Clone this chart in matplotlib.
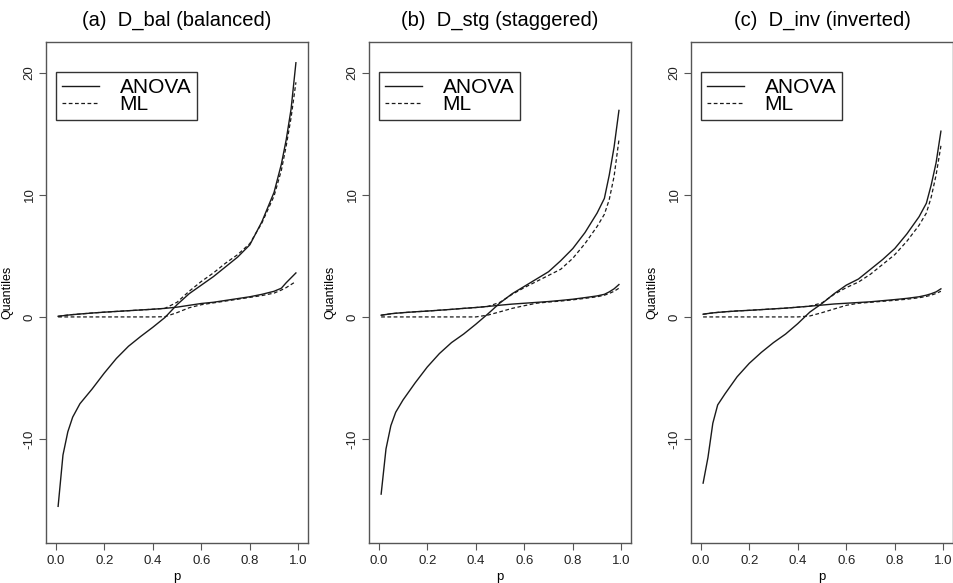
import matplotlib
matplotlib.use('Agg')

import numpy as np
import matplotlib.pyplot as plt

plt.rcParams['font.family'] = ['Liberation Sans', 'DejaVu Sans']

# probability grid shared by every curve
p = [0.01, 0.03, 0.05, 0.07, 0.10, 0.15, 0.20, 0.25, 0.30, 0.35, 0.40, 0.45,
     0.50, 0.55, 0.60, 0.65, 0.70, 0.75, 0.80, 0.85, 0.90, 0.93, 0.95, 0.97, 0.99]

titles = ['(a)  D_bal (balanced)', '(b)  D_stg (staggered)', '(c)  D_inv (inverted)']

# (a) balanced
bal_anova_s = [-15.5, -11.3, -9.4, -8.2, -7.1, -5.9, -4.6, -3.4, -2.4, -1.6, -0.85, -0.05,
               1.0, 1.9, 2.6, 3.3, 4.1, 4.9, 5.9, 7.8, 10.2, 12.5, 14.5, 17.0, 20.8]
bal_anova_f = [0.05, 0.10, 0.15, 0.19, 0.24, 0.32, 0.39, 0.45, 0.51, 0.57, 0.63, 0.70,
               0.80, 0.95, 1.10, 1.20, 1.35, 1.50, 1.65, 1.85, 2.10, 2.35, 2.80, 3.20, 3.60]
bal_ml_z = [0.0, 0.0, 0.0, 0.0, 0.0, 0.0, 0.0, 0.0, 0.0, 0.0, 0.0, 0.02,
            0.35, 0.75, 1.0, 1.15, 1.30, 1.45, 1.60, 1.75, 1.95, 2.20, 2.40, 2.65, 2.90]
bal_ml_f = [0.05, 0.10, 0.15, 0.19, 0.24, 0.32, 0.39, 0.45, 0.51, 0.57, 0.63, 0.70,
            1.2, 2.1, 2.9, 3.6, 4.4, 5.1, 6.0, 7.7, 9.9, 12.0, 14.0, 16.3, 19.2]

# (b) staggered
stg_anova_s = [-14.5, -10.8, -8.9, -7.8, -6.8, -5.4, -4.1, -3.0, -2.1, -1.4, -0.6, 0.25,
               1.15, 1.9, 2.5, 3.1, 3.7, 4.6, 5.6, 6.9, 8.5, 9.7, 11.6, 13.9, 16.9]
stg_anova_f = [0.14, 0.20, 0.26, 0.30, 0.35, 0.42, 0.48, 0.55, 0.62, 0.70, 0.77, 0.86,
               0.96, 1.05, 1.12, 1.19, 1.26, 1.35, 1.45, 1.58, 1.72, 1.85, 2.05, 2.30, 2.65]
stg_ml_z = [0.0, 0.0, 0.0, 0.0, 0.0, 0.0, 0.0, 0.0, 0.0, 0.0, 0.0, 0.15,
            0.42, 0.70, 0.92, 1.12, 1.22, 1.30, 1.40, 1.52, 1.65, 1.78, 1.92, 2.10, 2.35]
stg_ml_f = [0.14, 0.20, 0.26, 0.30, 0.35, 0.42, 0.48, 0.55, 0.62, 0.70, 0.77, 0.86,
            1.2, 1.85, 2.4, 2.9, 3.4, 3.9, 4.8, 6.0, 7.4, 8.4, 9.6, 11.5, 14.5]

# (c) inverted
inv_anova_s = [-13.6, -11.5, -8.7, -7.2, -6.3, -4.9, -3.8, -2.9, -2.1, -1.4, -0.55, 0.4,
               1.1, 1.9, 2.6, 3.1, 3.9, 4.7, 5.6, 6.8, 8.2, 9.3, 10.8, 12.6, 15.2]
inv_anova_f = [0.22, 0.28, 0.33, 0.37, 0.42, 0.49, 0.54, 0.60, 0.66, 0.72, 0.80, 0.88,
               0.97, 1.06, 1.12, 1.18, 1.24, 1.33, 1.42, 1.52, 1.65, 1.78, 1.90, 2.05, 2.30]
inv_ml_z = [0.0, 0.0, 0.0, 0.0, 0.0, 0.0, 0.0, 0.0, 0.0, 0.0, 0.0, 0.08,
            0.35, 0.65, 0.95, 1.12, 1.20, 1.28, 1.36, 1.45, 1.57, 1.68, 1.78, 1.92, 2.10]
inv_ml_f = [0.22, 0.28, 0.33, 0.37, 0.42, 0.49, 0.54, 0.60, 0.66, 0.72, 0.80, 0.88,
            1.15, 1.85, 2.4, 2.85, 3.5, 4.3, 5.1, 6.2, 7.5, 8.5, 9.8, 11.6, 14.0]

panels = [
    (bal_anova_s, bal_anova_f, bal_ml_z, bal_ml_f),
    (stg_anova_s, stg_anova_f, stg_ml_z, stg_ml_f),
    (inv_anova_s, inv_anova_f, inv_ml_z, inv_ml_f),
]

LINE_COL = '#1a1a1a'
AX_COL = '#555555'


def draw_panel(ax, title, curves):
    x = np.array(p)
    anova_s, anova_f, ml_z, ml_f = [np.array(c) for c in curves]

    ax.plot(x, anova_s, color=LINE_COL, lw=1.0, label='ANOVA')
    ax.plot(x, ml_f, color=LINE_COL, lw=0.9, dashes=(3, 2), label='ML')
    ax.plot(x, anova_f, color=LINE_COL, lw=1.0)
    ax.plot(x, ml_z, color=LINE_COL, lw=0.9, dashes=(3, 2))

    ax.set_xlim(-0.04, 1.04)
    ax.set_ylim(-18.5, 22.5)
    ax.set_xticks([0.0, 0.2, 0.4, 0.6, 0.8, 1.0])
    ax.set_xticklabels(['0.0', '0.2', '0.4', '0.6', '0.8', '1.0'])
    ax.set_yticks([-10, 0, 10, 20])
    ax.set_yticklabels(['-10', '0', '10', '20'], rotation=90, va='center')

    ax.tick_params(axis='both', direction='out', length=5, width=0.8, color=AX_COL,
                   labelsize=9.5, labelcolor='#222222')
    ax.tick_params(axis='y', pad=2.5)
    for s in ax.spines.values():
        s.set_color(AX_COL)
        s.set_linewidth(1.0)

    ax.set_xlabel('p', fontsize=9.5, labelpad=3)
    ax.set_ylabel('Quantiles', fontsize=9, labelpad=7)
    ax.set_title(title, fontsize=14.5, pad=12)

    leg = ax.legend(loc='upper left', bbox_to_anchor=(0.038, 0.94), fontsize=15,
                    handlelength=1.75, handletextpad=1.0, labelspacing=-0.1,
                    borderpad=0.3, borderaxespad=0, fancybox=False, frameon=True)
    leg.get_frame().set_edgecolor('#333333')
    leg.get_frame().set_linewidth(1.0)
    leg.get_frame().set_alpha(1.0)


def main():
    fig = plt.figure(figsize=(9.54, 5.83), dpi=100)
    lefts = [0.0482, 0.3868, 0.7243]
    for i, left in enumerate(lefts):
        ax = fig.add_axes([left, 0.0686, 0.2747, 0.8594])
        draw_panel(ax, titles[i], panels[i])
    fig.savefig('out.png', dpi=100)
    plt.close(fig)


if __name__ == '__main__':
    main()
